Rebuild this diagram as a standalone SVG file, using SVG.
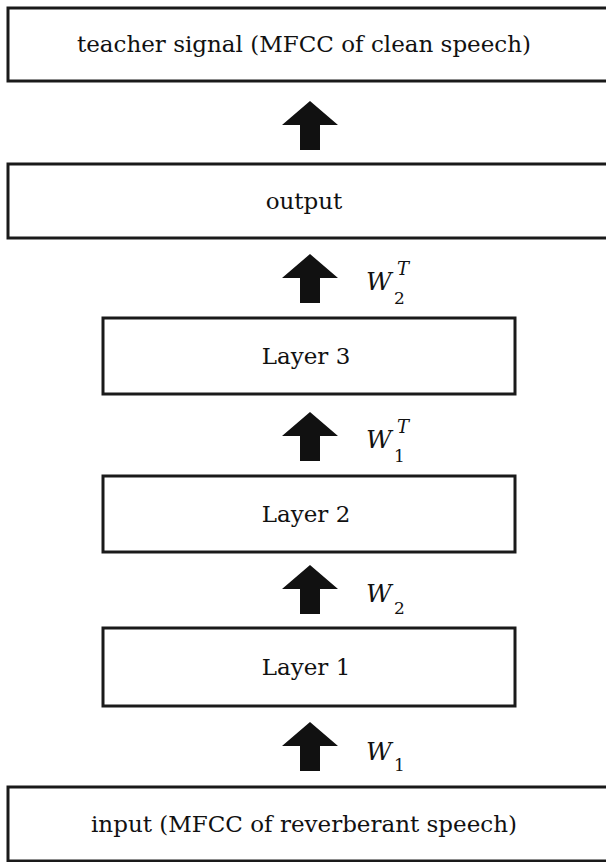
<svg xmlns="http://www.w3.org/2000/svg" width="606" height="862" viewBox="0 0 606 862">
<style>
.box{fill:#fff;stroke:#1a1a1a;stroke-width:3}
.lbl{font-family:"DejaVu Serif","Liberation Serif",serif;font-size:23px;fill:#111;text-anchor:middle}
.w{font-family:"DejaVu Serif","Liberation Serif",serif;font-style:italic;font-size:25px;fill:#111}
.s{font-family:"DejaVu Serif","Liberation Serif",serif;font-size:17px;fill:#111}
.st{font-family:"DejaVu Serif","Liberation Serif",serif;font-style:italic;font-size:18px;fill:#111}
.arr{fill:#111}
</style>
<defs>
<path id="up" d="M0,0 L28,24 L10,24 L10,49 L-10,49 L-10,24 L-28,24 Z"/>
</defs>
<rect width="606" height="862" fill="#fff"/>
<g id="teacher"><rect class="box" x="8" y="8" width="610" height="73"/><text class="lbl" x="304" y="52">teacher signal (MFCC of clean speech)</text></g>
<g id="output"><rect class="box" x="8" y="164" width="610" height="74"/><text class="lbl" x="304" y="209">output</text></g>
<g id="layer3"><rect class="box" x="103" y="318" width="412" height="76"/><text class="lbl" x="306" y="364">Layer 3</text></g>
<g id="layer2"><rect class="box" x="103" y="476" width="412" height="76"/><text class="lbl" x="306" y="522">Layer 2</text></g>
<g id="layer1"><rect class="box" x="103" y="628" width="412" height="78"/><text class="lbl" x="306" y="675">Layer 1</text></g>
<g id="input"><rect class="box" x="8" y="787" width="610" height="74"/><text class="lbl" x="304" y="832">input (MFCC of reverberant speech)</text></g>
<g id="connectors">
<use class="arr" href="#up" x="310" y="101"/>
<use class="arr" href="#up" x="310" y="254"/>
<use class="arr" href="#up" x="310" y="412"/>
<use class="arr" href="#up" x="310" y="565"/>
<use class="arr" href="#up" x="310" y="722"/>
<text class="w" x="366" y="290">W</text><text class="s" x="394" y="304">2</text><text class="st" x="397" y="275">T</text>
<text class="w" x="366" y="448">W</text><text class="s" x="394" y="462">1</text><text class="st" x="397" y="433">T</text>
<text class="w" x="366" y="602">W</text><text class="s" x="394" y="614">2</text>
<text class="w" x="366" y="760">W</text><text class="s" x="394" y="771">1</text>
</g>
</svg>
